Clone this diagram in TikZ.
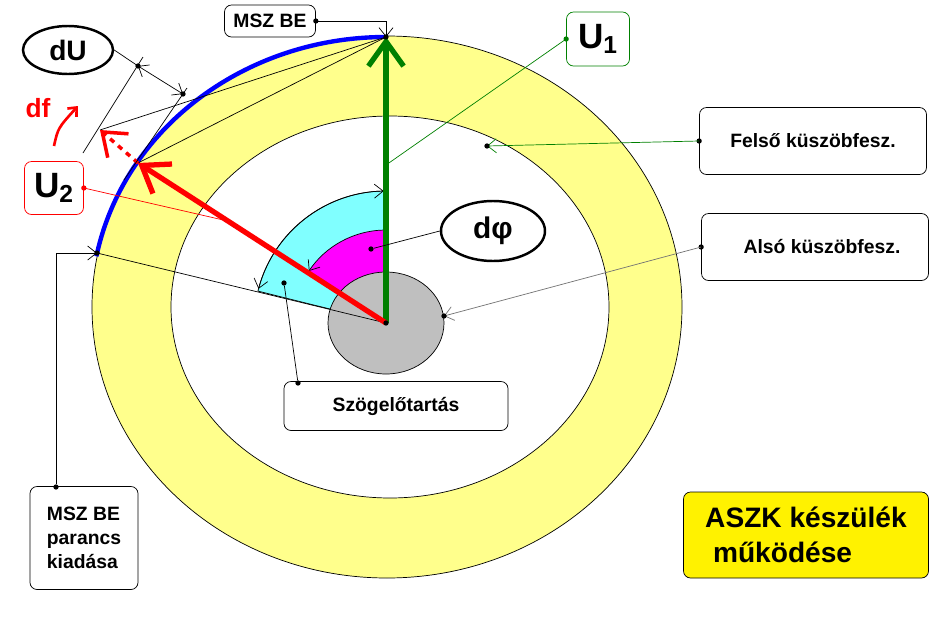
\documentclass[tikz,border=0pt]{standalone}
\usepackage{fontspec}
\setmainfont{Liberation Sans}
\usetikzlibrary{arrows.meta,shapes.geometric}
\definecolor{gelb}{RGB}{255,255,140}
\definecolor{zold}{RGB}{0,128,0}
\definecolor{turk}{RGB}{128,255,255}
\definecolor{lila}{RGB}{255,0,255}
\begin{document}
\begin{tikzpicture}
  [x=0.02cm, y=-0.02cm,
   box/.style={draw, rounded corners=4pt, fill=white, font=\bfseries\fontsize{11}{13.5}\selectfont, align=center},
   oval/.style={draw, line width=1.4pt, ellipse, fill=white, inner sep=0pt},
   pin/.style={-{Straight Barb[length=5pt,width=8pt]}, thin},
   dot/.style={circle, fill=black, inner sep=0pt, minimum size=3pt}]
  \useasboundingbox (0,0) rectangle (948,619);
  % disks
  \draw[fill=gelb, thin] (387,307) ellipse [x radius=295, y radius=271];
  \draw[fill=white, thin] (390,307) ellipse [x radius=219, y radius=191];
  \coordinate (C) at (386,323);
  \draw[fill=turk, thin] (C) -- ++(-90:132) arc[start angle=-90, end angle=-166, radius=132] -- cycle;
  \draw[fill=lila, draw=none] (C) -- ++(-90:93) arc[start angle=-90, end angle=-147, radius=93] -- cycle;
  \draw[fill=black!25, thin] (C) ellipse [x radius=58, y radius=51];
  \draw[pin, {Straight Barb[length=5pt,width=8pt]}-{Straight Barb[length=5pt,width=8pt]}] (C) ++(-91:132) arc[start angle=-91, end angle=-165, radius=132];
  \draw[pin] (C) ++(-92:93) arc[start angle=-92, end angle=-146, radius=93];
  % blue arc and points
  \coordinate (top) at (386,37);
  \coordinate (low) at (97,253);
  \coordinate (tipA) at (138,163);
  \coordinate (tipB) at (100,130);
  \draw[blue, line width=2.5pt] (top) arc[start angle=-90, end angle=-169, x radius=295, y radius=271];
  \draw[thin] (low) -- (C);
  \draw[thin] (top) -- (tipA);
  \draw[thin] (top) -- (tipB);
  % vectors
  \draw[zold, line width=3pt, -{Straight Barb[length=14pt,width=20pt]}] (C) -- (top);
  \draw[red, line width=3pt, -{Straight Barb[length=14pt,width=20pt]}] (C) -- (tipA);
  \draw[red, line width=2pt, dashed, -{Straight Barb[length=12pt,width=18pt]}] (tipA) -- (tipB);
  % dU dimension
  \coordinate (d1) at (138,66);
  \coordinate (d2) at (183,94);
  \draw[thin] (83,153) -- (143,57);
  \draw[thin] (124,180) -- (187,88);
  \draw[thin, {Straight Barb[length=5pt,width=8pt]}-{Straight Barb[length=5pt,width=8pt]}] (d1) -- (d2);
  \node[dot] at (d1) {};
  \node[dot] at (d2) {};
  \node[oval, minimum width=90*0.02cm, minimum height=48*0.02cm] (dU) at (68,50)
    {\bfseries\fontsize{16}{18}\selectfont dU};
  \draw[thin] (dU.east) -- (d1);
  \node[red, font=\bfseries\fontsize{15}{16}\selectfont] (df) at (38,108) {df};
  \draw[red, line width=1.5pt, -{Straight Barb[length=4pt,width=7pt]}] (54,146) .. controls (58,128) .. (78,106);
  % labels
  \node[box, minimum width=91*0.02cm, minimum height=32*0.02cm] (msz) at (270,21) {MSZ BE};
  \node[dot] at (msz.east) {};
  \draw[pin] (msz.east) -| (top);
  \node[box, draw=red, minimum width=59*0.02cm, minimum height=53*0.02cm, font=\bfseries\fontsize{20}{22}\selectfont] (u2) at (54,188) {U$_{\mathbf 2}$};
  \node[dot, red] at (u2.east) {};
  \draw[red, thin] (u2.east) -- (232,222);
  \node[box, draw=zold, minimum width=63*0.02cm, minimum height=54*0.02cm, font=\bfseries\fontsize{20}{22}\selectfont] (u1) at (598,39) {U$_{\mathbf 1}$};
  \node[dot, zold] at (u1.west) {};
  \draw[zold, thin] (u1.west) -- (386,165);
  \node[box, minimum width=227*0.02cm, minimum height=67*0.02cm] (fel) at (813,141) {Felső küszöbfesz.};
  \node[dot] at (fel.west) {};
  \draw[pin, zold] (fel.west) -- (487,146);
  \node[dot] at (487,146) {};
  \node[box, minimum width=227*0.02cm, minimum height=67*0.02cm] (also) at (815,247) {\hspace*{8pt}Alsó küszöbfesz.};
  \node[dot] at (also.west) {};
  \draw[pin, black!55] (also.west) -- (444,316);
  \node[dot] at (444,316) {};
  \node[oval, minimum width=104*0.02cm, minimum height=60*0.02cm] (dphi) at (493,231)
    {\bfseries\fontsize{17}{18}\selectfont dφ};
  \node[dot] (mg) at (371,249) {};
  \draw[thin] (dphi.west) -- (mg);
  \node[box, minimum width=224*0.02cm, minimum height=49*0.02cm] (szog) at (396,406) {Szögelőtartás};
  \node[dot] (cy) at (284,283) {};
  \node[dot] (sz) at (298,383) {};
  \draw[thin] (cy) -- (sz);
  \node[box, minimum width=108*0.02cm, minimum height=103*0.02cm, align=left] (parancs) at (84,538)
    {MSZ BE\\parancs\\kiadása};
  \node[dot] (pd) at (56,487) {};
  \draw[pin] (pd) |- (low);
  \node[dot] at (low) {};
  \node[dot] at (top) {};
  \node[dot] at (C) {};
  \node[box, fill=yellow, minimum width=245*0.02cm, minimum height=86*0.02cm, align=left,
    font=\bfseries\fontsize{16}{20}\selectfont] (aszk) at (806,535) {ASZK készülék\\\ működése};
\end{tikzpicture}
\end{document}
